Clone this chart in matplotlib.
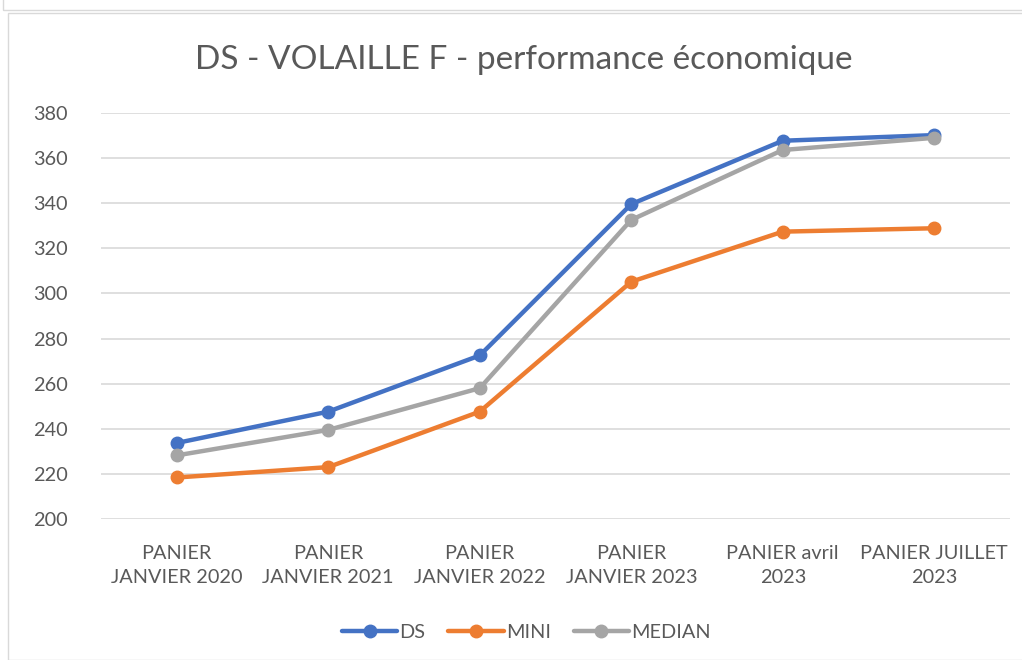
import matplotlib
matplotlib.use('Agg')
import matplotlib.pyplot as plt
from matplotlib.patches import Rectangle

plt.rcParams['font.family'] = ['Lato', 'DejaVu Sans']

# données
categories = ['PANIER\nJANVIER 2020', 'PANIER\nJANVIER 2021', 'PANIER\nJANVIER 2022',
              'PANIER\nJANVIER 2023', 'PANIER avril\n2023', 'PANIER JUILLET\n2023']
ds = [233.7, 247.6, 272.5, 339.6, 367.7, 370.2]
mini = [218.4, 223.0, 247.6, 305.2, 327.4, 328.9]
median = [228.2, 239.5, 258.0, 332.6, 363.6, 369.0]

series_names = ['DS', 'MINI', 'MEDIAN']
series_colors = ['#4472C4', '#ED7D31', '#A5A5A5']
text_color = '#595959'

fig = plt.figure(figsize=(10.22, 6.6), dpi=100)

# cadre du graphique
fig.add_artist(Rectangle((8/1022, 0), 1.1, (660-13)/660, transform=fig.transFigure,
                         facecolor='none', edgecolor='#d9d9d9', linewidth=1))
fig.add_artist(Rectangle((3/1022, (660-10)/660), 1.1, 0.1, transform=fig.transFigure,
                         facecolor='none', edgecolor='#d9d9d9', linewidth=1))

ax = fig.add_axes([101/1022, (660-519)/660, (1010-101)/1022, (519-113)/660])

x = range(len(categories))
for vals, name, col in zip([ds, mini, median], series_names, series_colors):
    ax.plot(x, vals, color=col, linewidth=3.2, marker='o', markersize=9,
            label=name, solid_capstyle='round', zorder=3)

ax.set_xlim(-0.5, len(categories) - 0.5)
ax.set_ylim(200, 380)
ax.set_yticks(range(200, 381, 20))
ax.set_xticks(list(x))
ax.set_xticklabels(categories, linespacing=1.5)
ax.grid(axis='y', color='#d9d9d9', linewidth=1.2)
ax.set_axisbelow(True)
for s in ax.spines.values():
    s.set_visible(False)
ax.tick_params(length=0, labelsize=14.3, colors=text_color)
ax.tick_params(axis='y', pad=24)
ax.tick_params(axis='x', pad=19)

fig.text(0.512, (660-69)/660, 'DS - VOLAILLE F - performance économique',
         ha='center', va='baseline', fontsize=24, color=text_color)

leg = fig.legend(loc='center', bbox_to_anchor=(0.515, (660-632)/660), ncol=3,
                 frameon=False, fontsize=14.3, handlelength=2.8, handletextpad=0.1,
                 columnspacing=1.15)
for t in leg.get_texts():
    t.set_color(text_color)

fig.savefig('out.png', dpi=100)
